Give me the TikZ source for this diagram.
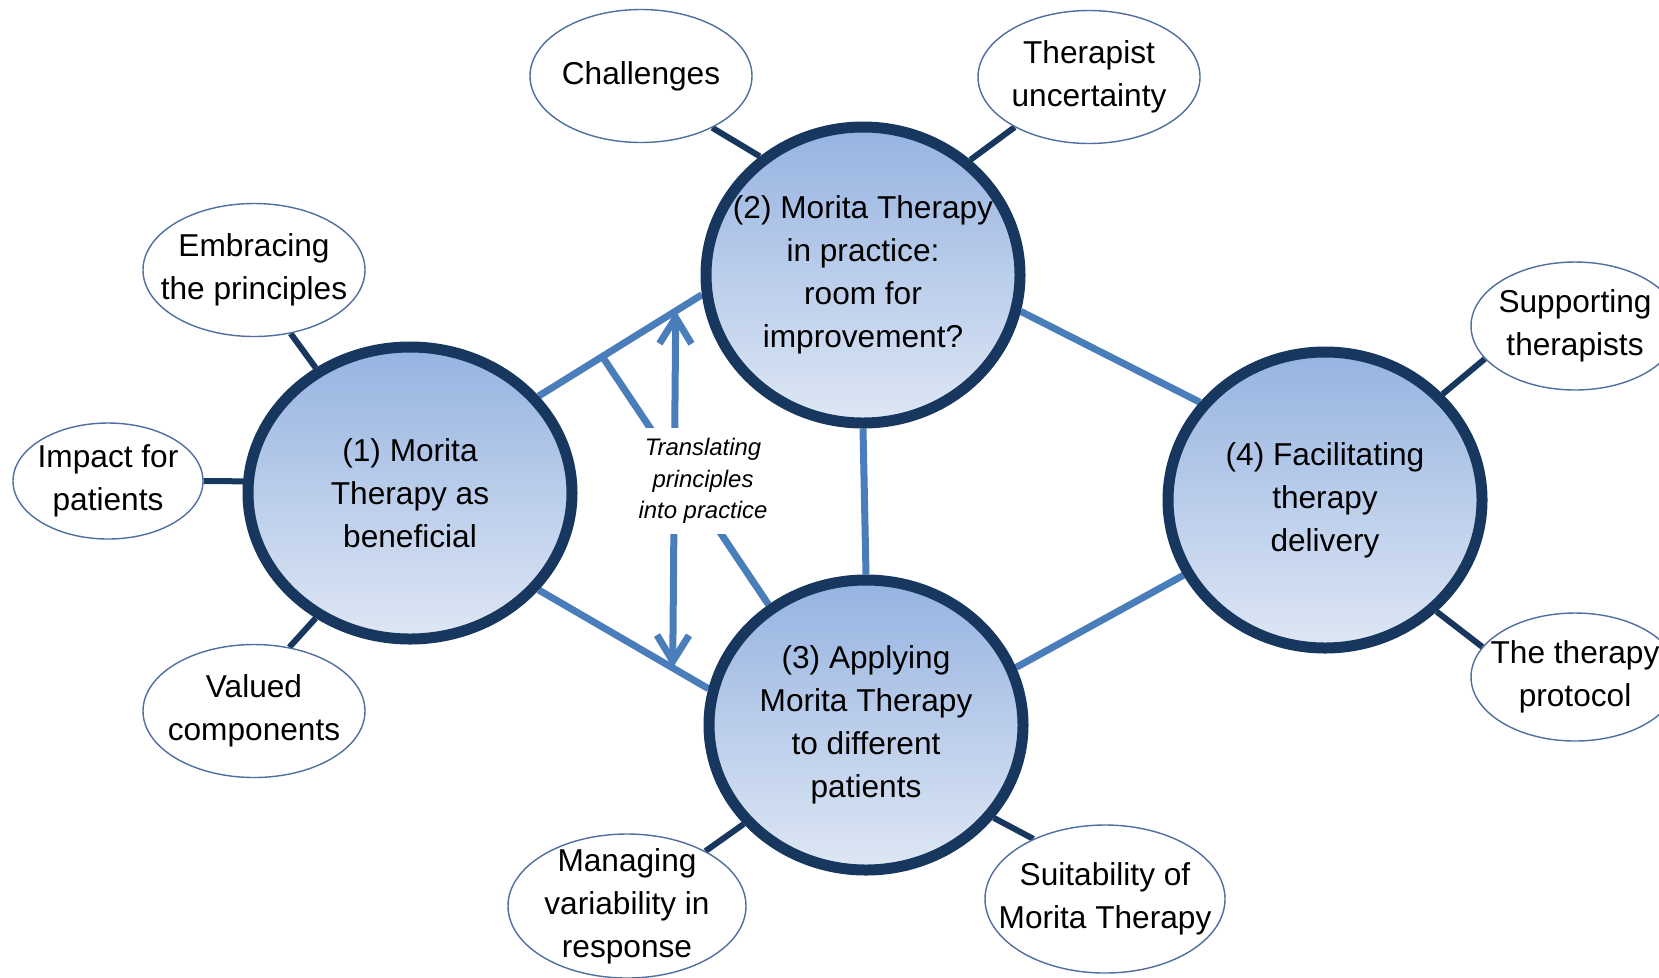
\documentclass[tikz,border=0pt]{standalone}
\usepackage{fontspec}
\setmainfont{Liberation Sans}
\usetikzlibrary{positioning,arrows.meta,shapes.geometric,calc}
\definecolor{colorring}{RGB}{ 23, 55, 94}
\definecolor{colorline}{RGB}{ 74,126,187}
\definecolor{colortop} {RGB}{150,179,225}
\definecolor{colorbot} {RGB}{222,231,244}
\definecolor{colorleaf}{RGB}{ 80,110,160}
\pgfdeclarelayer{back}
\pgfsetlayers{back,main}

\begin{document}
\begin{tikzpicture}[
    x=0.1mm, y=-0.1mm,
    font={\fontsize{9}{12.2}\selectfont},
    theme/.style={ellipse,draw=colorring,line width=1.1mm,top color=colortop,bottom color=colorbot,
        minimum width=31.4mm,minimum height=29.6mm,align=center,inner xsep=-4mm,inner ysep=-2mm},
    leaf/.style={ellipse,draw=colorleaf,line width=0.4pt,fill=white,
        minimum width=22.2mm,minimum height=13.3mm,align=center,inner xsep=-3mm,inner ysep=-2mm},
    link/.style={line width=0.7mm,color=colorline},
    spoke/.style={line width=0.6mm,color=colorring},
    barb/.style={{Straight Barb[length=2.6mm,width=3.2mm]}-{Straight Barb[length=2.6mm,width=3.2mm]}},
    txt/.style={font={\fontsize{6.8}{9}\selectfont\itshape},fill=white,inner sep=1mm,align=center}
]

    \useasboundingbox (0,0) rectangle (1659,977);

    \node[theme,minimum width=32.4mm,minimum height=29.2mm] (morita) at (410,493) {(1) Morita\\Therapy as\\beneficial};
    \node[theme] (practice) at (863,275) {(2) Morita Therapy\\in practice:\\room for\\improvement?};
    \node[theme,minimum height=29mm] (applying) at (866,725) {(3) Applying\\Morita Therapy\\to different\\patients};
    \node[theme] (delivery) at (1325,500) {(4) Facilitating\\therapy\\delivery};

    \node[leaf] (embrace) at (254,270) {Embracing\\the principles};
    \node[leaf,minimum width=19mm,minimum height=11.6mm] (impact) at (108,481) {Impact for\\patients};
    \node[leaf] (valued) at (254,711) {Valued\\components};
    \node[leaf] (challenge) at (641,76) {Challenges};
    \node[leaf] (doubt) at (1089,77) {Therapist\\uncertainty};
    \node[leaf,minimum width=20.8mm,minimum height=12.8mm] (support) at (1575,326) {Supporting\\therapists};
    \node[leaf,minimum width=20.8mm,minimum height=12.8mm] (protocol) at (1575,677) {The therapy\\protocol};
    \node[leaf,minimum width=23.8mm,minimum height=14.4mm] (variability) at (627,906) {Managing\\variability in\\response};
    \node[leaf,minimum width=24mm,minimum height=14.8mm] (suitable) at (1105,899) {Suitability of\\Morita Therapy};

    \node[txt] (translate) at (703,481) {Translating\\principles\\into practice};

    \begin{pgfonlayer}{back}
    \draw[link] (morita.37) -- (practice.187);
    \draw[link] (morita.-37) -- (applying.167);
    \draw[link] (practice.south) -- (applying.north);
    \draw[link] (practice.-13) -- (delivery.142);
    \draw[link] (applying.21) -- (delivery.208);

    \coordinate (fork) at ($(morita.37)!0.39!(practice.187)$);
    \coordinate (up) at ($(morita.37)!0.84!(practice.187)$);
    \coordinate (down) at ($(morita.-37)!0.79!(applying.167)$);
    \draw[link] (fork) -- (applying.129);
    \draw[link,barb] (down) -- (up);

    \draw[spoke] (embrace.-60) -- (morita.127);
    \draw[spoke] (impact.0) -- (morita.176);
    \draw[spoke] (valued.61) -- (morita.233);
    \draw[spoke] (challenge.-36) -- (practice.131);
    \draw[spoke] (doubt.-146) -- (practice.47);
    \draw[spoke] (support.200) -- (delivery.42);
    \draw[spoke] (protocol.162) -- (delivery.-45);
    \draw[spoke] (variability.35) -- (applying.219);
    \draw[spoke] (suitable.140) -- (applying.-36);
    \end{pgfonlayer}

\end{tikzpicture}
\end{document}
